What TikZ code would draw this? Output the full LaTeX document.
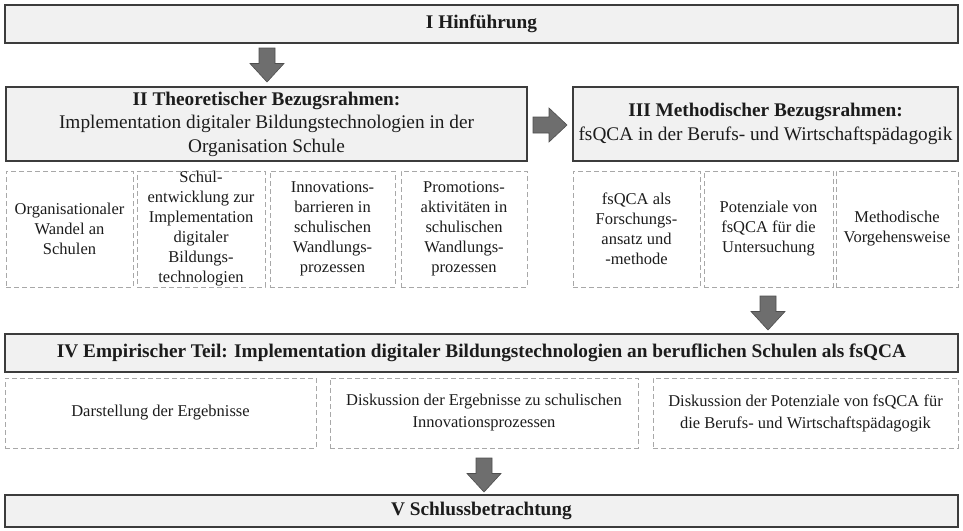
\documentclass[tikz,border=0pt]{standalone}
\usepackage{fontspec}
\setmainfont{Liberation Serif}
\usetikzlibrary{calc}

\definecolor{boxfill}{HTML}{F1F1F1}
\definecolor{boxline}{HTML}{3C3C3C}
\definecolor{dashline}{HTML}{A8A8A8}
\definecolor{txt}{HTML}{1C1C1C}
\definecolor{arrowfill}{HTML}{6E6E6E}
\definecolor{arrowline}{HTML}{4E4E4E}

\tikzset{
  every node/.style={text=txt, font=\fontsize{16.5}{20}\selectfont},
  mainbox/.style={draw=boxline, fill=boxfill, line width=1.3pt, inner sep=0pt, align=center,
    font=\fontsize{19.3}{23.5}\selectfont},
  subbox/.style={draw=dashline, line width=1pt, dash pattern=on 5pt off 3pt, inner sep=0pt, align=center},
  widebox/.style={subbox, font=\fontsize{16.5}{22}\selectfont},
  arrowshape/.style={fill=arrowfill, draw=arrowline, line width=0.6pt},
  pics/downarrow/.style={code={
    \filldraw[arrowshape] (-8,0) -- (-8,15.5) -- (-17,15.5) -- (0,34) -- (17,15.5) -- (8,15.5) -- (8,0) -- cycle;}},
  pics/rightarrow/.style={code={
    \filldraw[arrowshape] (0,-8) -- (16,-8) -- (16,-17) -- (34,0) -- (16,17) -- (16,8) -- (0,8) -- cycle;}},
}

\begin{document}
\begin{tikzpicture}[x=1pt, y=-1pt]
\useasboundingbox (0,0) rectangle (963,530);

% chapter boxes
\node[mainbox, minimum width=953, minimum height=38] (I) at (481.5,24) {\textbf{I Hinführung}};
\node[mainbox, minimum width=521, minimum height=74] (II) at (266.5,124)
  {\textbf{II Theoretischer Bezugsrahmen:}\\Implementation digitaler Bildungstechnologien in der\\Organisation Schule};
\node[mainbox, minimum width=385, minimum height=74] (III) at (765.5,124)
  {\textbf{III Methodischer Bezugsrahmen:}\\fsQCA in der Berufs- und Wirtschaftspädagogik};
\node[mainbox, minimum width=953, minimum height=38] (IV) at (481.5,353)
  {\textbf{IV Empirischer Teil: Implementation digitaler Bildungstechnologien an beruflichen Schulen als fsQCA}};
\node[mainbox, minimum width=953, minimum height=32] (V) at (481.5,511)
  {\textbf{V Schlussbetrachtung}};

% sections of chapter II
\node[subbox, minimum width=127, minimum height=116] (a1) at (69.5,229)
  {Organisationaler\\Wandel an\\Schulen};
\node[subbox, minimum width=128, minimum height=116] (a2) at (201,229)
  {Schul-\\entwicklung zur\\Implementation\\digitaler\\Bildungs-\\technologien};
\node[subbox, minimum width=125, minimum height=116] (a3) at (332.5,229)
  {Innovations-\\barrieren in\\schulischen\\Wandlungs-\\prozessen};
\node[subbox, minimum width=126, minimum height=116] (a4) at (464,229)
  {Promotions-\\aktivitäten in\\schulischen\\Wandlungs-\\prozessen};

% sections of chapter III
\node[subbox, minimum width=127, minimum height=116] (b1) at (636.5,229)
  {fsQCA als\\Forschungs-\\ansatz und\\-methode};
\node[subbox, minimum width=129, minimum height=116] (b2) at (768.5,229)
  {Potenziale von\\fsQCA für die\\Untersuchung};
\node[subbox, minimum width=122, minimum height=116] (b3) at (897,229)
  {Methodische\\Vorgehensweise};

% sections of chapter IV
\node[widebox, minimum width=311, minimum height=70] (c1) at (160.5,413)
  {Darstellung der Ergebnisse};
\node[widebox, minimum width=308, minimum height=70] (c2) at (484,413)
  {Diskussion der Ergebnisse zu schulischen\\Innovationsprozessen};
\node[widebox, minimum width=305, minimum height=70] (c3) at (805.5,413)
  {Diskussion der Potenziale von fsQCA für\\die Berufs- und Wirtschaftspädagogik};

% block arrows between the chapters
\pic at (267,48) {downarrow};
\pic at (533,125) {rightarrow};
\pic at (768,296) {downarrow};
\pic at (484,458) {downarrow};
\end{tikzpicture}
\end{document}
